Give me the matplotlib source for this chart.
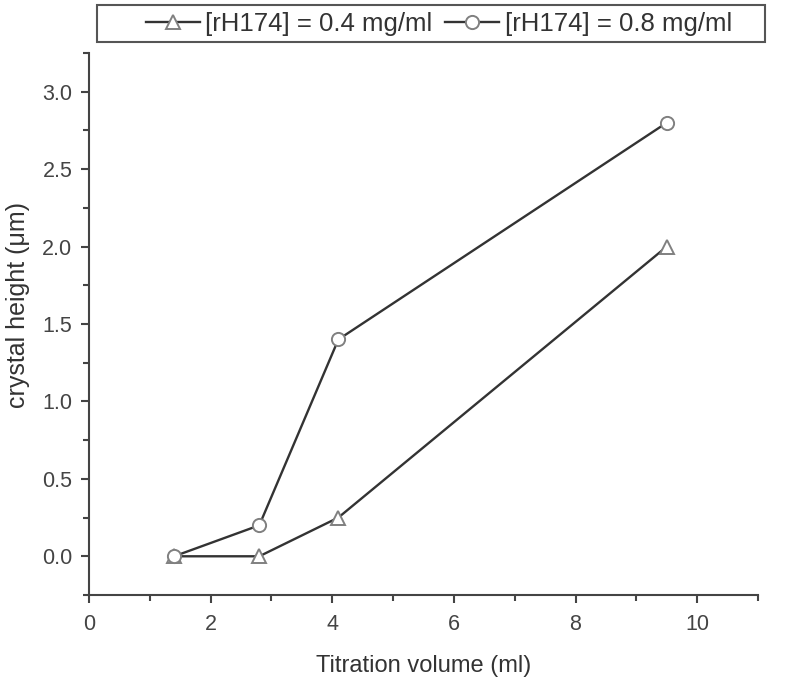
import matplotlib.pyplot as plt
from matplotlib.patches import Rectangle
from matplotlib.ticker import MultipleLocator

plt.rcParams['font.family'] = ['Liberation Sans', 'DejaVu Sans']

# titration volume (ml)
volume = [1.4, 2.8, 4.1, 9.5]
# crystal height (um)
height_04 = [0.0, 0.0, 0.25, 2.0]
height_08 = [0.0, 0.2, 1.4, 2.8]

LABELS = ["[rH174] = 0.4 mg/ml", "[rH174] = 0.8 mg/ml"]
LINE = "#333333"
EDGE = "#808080"
AXC = "#444444"

fig = plt.figure(figsize=(8, 6.78), dpi=100)
ax = fig.add_axes([89 / 800, 83 / 678, 669 / 800, 542 / 678])

l1, = ax.plot(volume, height_04, color=LINE, lw=1.7, marker="^", markersize=10.5,
              markerfacecolor="white", markeredgecolor=EDGE, markeredgewidth=1.4,
              label=LABELS[0])
l2, = ax.plot(volume, height_08, color=LINE, lw=1.7, marker="o", markersize=9.5,
              markerfacecolor="white", markeredgecolor=EDGE, markeredgewidth=1.4,
              label=LABELS[1])

ax.set_xlim(0, 11)
ax.set_ylim(-0.25, 3.25)
ax.xaxis.set_major_locator(MultipleLocator(2))
ax.xaxis.set_minor_locator(MultipleLocator(1))
ax.yaxis.set_major_locator(MultipleLocator(0.5))
ax.yaxis.set_minor_locator(MultipleLocator(0.25))
ax.yaxis.set_major_formatter(plt.FormatStrFormatter("%.1f"))
ax.set_xticks(range(0, 11, 2))

for s in ["top", "right"]:
    ax.spines[s].set_visible(False)
for s in ["left", "bottom"]:
    ax.spines[s].set_color(AXC)
    ax.spines[s].set_linewidth(1.5)

ax.tick_params(which="major", direction="out", length=6, width=1.5, color=AXC,
               labelsize=15.5, labelcolor="#444444", pad=6)
ax.tick_params(axis="x", which="major", pad=8)
ax.tick_params(which="minor", direction="out", length=4.5, width=1.5, color=AXC)

ax.set_xlabel("Titration volume (ml)", fontsize=17, color="#333333", labelpad=14)
ax.set_ylabel("crystal height (\u03bcm)", fontsize=18, color="#333333")
ax.yaxis.set_label_coords(-0.088, 0.535)

# legend box above the axes
fig.patches.append(Rectangle((97 / 800, 1 - 42 / 678), 668 / 800, 37 / 678,
                             transform=fig.transFigure, facecolor="white",
                             edgecolor="#555555", linewidth=1.5))
fig.legend(handles=[l1, l2], labels=LABELS, loc="center",
           bbox_to_anchor=(439 / 800, 1 - 23.5 / 678), ncol=2, frameon=False,
           fontsize=18.5, handlelength=2.1, handletextpad=0.2, columnspacing=0.5,
           labelcolor="#333333")

fig.savefig("out.png", dpi=100)
